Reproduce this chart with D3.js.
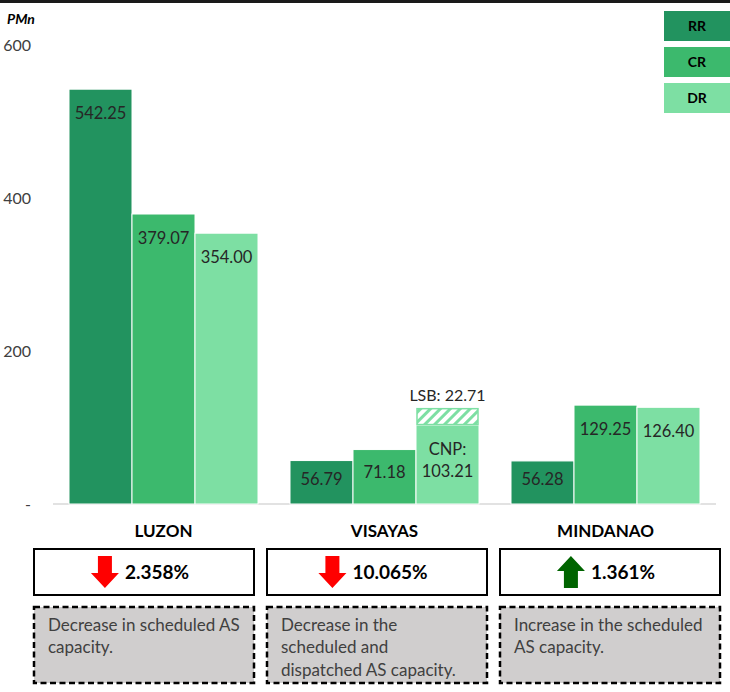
<!DOCTYPE html>
<html>
<head>
  <meta charset="utf-8">
  <script src="https://d3js.org/d3.v7.min.js"></script>
  <style>
    body { margin: 0; background: #fff; }
    text { font-family: Lato, "Open Sans", sans-serif; }
  </style>
</head>
<body>
<div id="chart"></div>
<script>
// data
var regions = ["LUZON", "VISAYAS", "MINDANAO"];
var series = ["RR", "CR", "DR"];
var rrValues = [542.25, 56.79, 56.28];
var crValues = [379.07, 71.18, 129.25];
var drValues = [354.00, 103.21, 126.40];
var lsbValues = [0, 22.71, 0];
var yTicks = [0, 200, 400, 600];
var changeValues = ["2.358%", "10.065%", "1.361%"];
var changeDirs = ["down", "down", "up"];
var notes = [
  ["Decrease in scheduled AS", "capacity."],
  ["Decrease in the", "scheduled and", "dispatched AS capacity."],
  ["Increase in the scheduled", "AS capacity."]
];

var colors = {RR: "#22935f", CR: "#3cb96d", DR: "#7ddfa3"};

var width = 730, height = 692;

var svg = d3.select("#chart")
  .append("svg")
    .attr("width", width)
    .attr("height", height);

var defs = svg.append("defs");
var pat = defs.append("pattern")
    .attr("id", "hatch")
    .attr("patternUnits", "userSpaceOnUse")
    .attr("width", 7)
    .attr("height", 7)
    .attr("patternTransform", "rotate(45)");
pat.append("rect").attr("width", 7).attr("height", 7).attr("fill", colors.DR);
pat.append("rect").attr("width", 4).attr("height", 7).attr("fill", "#fff");

// top border
svg.append("rect")
    .attr("x", 0).attr("y", 0)
    .attr("width", width).attr("height", 3)
    .attr("fill", "#1a1a1a");

// scales
var y = d3.scaleLinear().domain([0, 600]).range([504, 45]);
var x0 = d3.scaleBand().domain(regions).range([53, 716])
    .paddingInner(32 / 221).paddingOuter(16 / 221);
var x1 = d3.scaleBand().domain(series).range([0, x0.bandwidth()]);

// y axis
var yAxis = svg.append("g")
    .attr("transform", "translate(31,0)")
    .call(d3.axisLeft(y).tickValues(yTicks).tickSize(0).tickPadding(0)
      .tickFormat(function (d) { return d === 0 ? "-" : d; }));
yAxis.select(".domain").remove();
yAxis.selectAll("text")
    .style("font-family", "Lato, sans-serif")
    .style("font-size", "16px")
    .attr("fill", "#404040");

svg.append("text")
    .attr("x", 7).attr("y", 24)
    .style("font-size", "14px")
    .style("font-weight", "bold")
    .style("font-style", "italic")
    .text("PMn");

// baseline
svg.append("line")
    .attr("x1", 53).attr("x2", 716)
    .attr("y1", y(0)).attr("y2", y(0))
    .attr("stroke", "#d9d9d9")
    .attr("stroke-width", 1.5);

// build rows
var rows = [];
regions.forEach(function (r, i) {
  rows.push({region: r, key: "RR", value: rrValues[i], lsb: 0});
  rows.push({region: r, key: "CR", value: crValues[i], lsb: 0});
  rows.push({region: r, key: "DR", value: drValues[i], lsb: lsbValues[i]});
});

function bx(d) { return x0(d.region) + x1(d.key); }

var bars = svg.append("g");
bars.selectAll("rect.bar")
  .data(rows)
  .enter()
  .append("rect")
    .attr("class", "bar")
    .attr("x", bx)
    .attr("y", function (d) { return y(d.value); })
    .attr("width", x1.bandwidth())
    .attr("height", function (d) { return y(0) - y(d.value); })
    .attr("fill", function (d) { return colors[d.key]; })
    .attr("stroke", "#fff")
    .attr("stroke-width", 1);

// LSB hatched segment
var lsbRows = rows.filter(function (d) { return d.lsb > 0; });
bars.selectAll("rect.lsb")
  .data(lsbRows)
  .enter()
  .append("rect")
    .attr("class", "lsb")
    .attr("x", function (d) { return bx(d) + 1; })
    .attr("y", function (d) { return y(d.value + d.lsb) + 1; })
    .attr("width", x1.bandwidth() - 2)
    .attr("height", function (d) { return y(d.value) - y(d.value + d.lsb) - 1.5; })
    .attr("fill", "url(#hatch)")
    .attr("stroke", colors.DR)
    .attr("stroke-width", 1.5);

bars.selectAll("text.lsbl")
  .data(lsbRows)
  .enter()
  .append("text")
    .attr("class", "lsbl")
    .attr("x", function (d) { return bx(d) + x1.bandwidth() / 2; })
    .attr("y", function (d) { return y(d.value + d.lsb) - 7; })
    .attr("text-anchor", "middle")
    .style("font-size", "16px")
    .attr("fill", "#262626")
    .text(function (d) { return "LSB: " + d.lsb.toFixed(2); });

// value labels
var labels = bars.selectAll("g.lbl")
  .data(rows)
  .enter()
  .append("g")
    .attr("class", "lbl");

labels.each(function (d) {
  var g = d3.select(this);
  var cx = bx(d) + x1.bandwidth() / 2;
  var top = y(d.value);
  var h = y(0) - top;
  if (d.lsb > 0) {
    g.append("text").attr("x", cx).attr("y", top + 30)
      .attr("text-anchor", "middle").style("font-size", "16.5px")
      .attr("fill", "#262626").text("CNP:");
    g.append("text").attr("x", cx).attr("y", top + 52)
      .attr("text-anchor", "middle").style("font-size", "16.5px")
      .attr("fill", "#262626").text(d.value.toFixed(2));
  } else {
    var off = Math.min(24, h * 0.42);
    g.append("text").attr("x", cx).attr("y", top + off)
      .attr("dy", "0.35em")
      .attr("text-anchor", "middle").style("font-size", "16.5px")
      .attr("fill", "#262626").text(d.value.toFixed(2));
  }
});

// legend
var legend = svg.append("g");
series.forEach(function (s, i) {
  legend.append("rect")
    .attr("x", 664).attr("y", 11 + i * 36)
    .attr("width", 66).attr("height", 30)
    .attr("fill", colors[s]);
  legend.append("text")
    .attr("x", 697).attr("y", 26 + i * 36)
    .attr("dy", "0.35em")
    .attr("text-anchor", "middle")
    .style("font-size", "14px")
    .style("font-weight", "bold")
    .text(s);
});

// region names
svg.selectAll("text.region")
  .data(regions)
  .enter()
  .append("text")
    .attr("class", "region")
    .attr("x", function (d) { return x0(d) + x0.bandwidth() / 2; })
    .attr("y", 531)
    .attr("dy", "0.35em")
    .attr("text-anchor", "middle")
    .style("font-size", "17px")
    .style("font-weight", "bold")
    .text(function (d) { return d; });

// change boxes and notes
var boxX = [34, 267, 500];
var boxW = 220;

regions.forEach(function (r, i) {
  var g = svg.append("g");
  g.append("rect")
    .attr("x", boxX[i]).attr("y", 549)
    .attr("width", boxW).attr("height", 46)
    .attr("fill", "#fff")
    .attr("stroke", "#000")
    .attr("stroke-width", 2);

  var t = g.append("text")
    .attr("y", 572)
    .attr("dy", "0.35em")
    .style("font-size", "19px")
    .style("font-weight", "bold")
    .text(changeValues[i]);
  var tw = t.node().getComputedTextLength();
  var aw = 28, gap = 6;
  var startX = boxX[i] + (boxW - (aw + gap + tw)) / 2 - 4;
  t.attr("x", startX + aw + gap);

  var ax = startX, ay = 556, ah = 32;
  var pts;
  if (changeDirs[i] === "down") {
    pts = [[ax + 7, ay], [ax + 21, ay], [ax + 21, ay + 17], [ax + 28, ay + 17],
           [ax + 14, ay + ah], [ax, ay + 17], [ax + 7, ay + 17]];
  } else {
    pts = [[ax + 14, ay], [ax + 28, ay + 15], [ax + 21, ay + 15], [ax + 21, ay + ah],
           [ax + 7, ay + ah], [ax + 7, ay + 15], [ax, ay + 15]];
  }
  g.append("polygon")
    .attr("points", pts.map(function (p) { return p.join(","); }).join(" "))
    .attr("fill", changeDirs[i] === "down" ? "#ff0000" : "#006400");

  g.append("rect")
    .attr("x", boxX[i]).attr("y", 607)
    .attr("width", boxW).attr("height", 76)
    .attr("fill", "#d0cece")
    .attr("stroke", "#000")
    .attr("stroke-width", 2.5)
    .attr("stroke-dasharray", "6,3.5");

  notes[i].forEach(function (line, j) {
    g.append("text")
      .attr("x", boxX[i] + 14)
      .attr("y", 625 + j * 22.5)
      .attr("dy", "0.35em")
      .style("font-size", "17px")
      .attr("fill", "#404040")
      .text(line);
  });
});
</script>
</body>
</html>
